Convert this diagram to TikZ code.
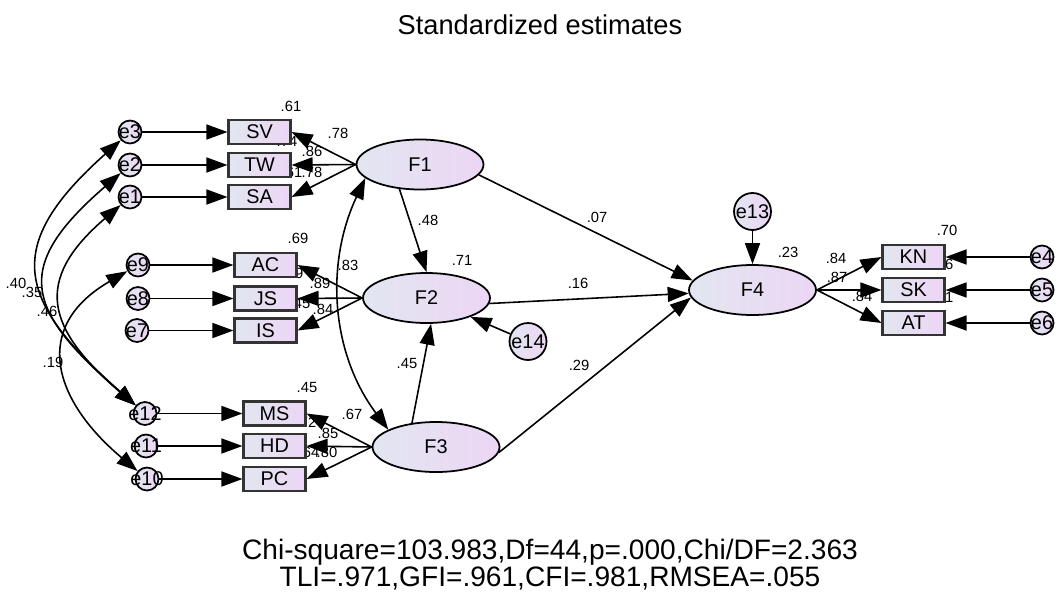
\documentclass[tikz,border=0pt]{standalone}
\usepackage{fontspec}
\setmainfont{Liberation Sans}
\usetikzlibrary{arrows.meta,shapes.geometric}
\definecolor{fillleft}{RGB}{226,230,240}
\definecolor{fillright}{RGB}{236,214,245}
\newcommand{\errtxt}[1]{\makebox[0pt]{#1}}
\tikzset{
  obs/.style={rectangle, draw=black!80, line width=1.2pt, minimum width=1.24cm, minimum height=0.48cm, inner sep=0pt, left color=fillleft, right color=fillright, font=\fontsize{11.3}{13}\selectfont},
  lat/.style={ellipse, draw=black, line width=1pt, minimum width=2.54cm, minimum height=1cm, inner sep=0pt, left color=fillleft, right color=fillright, font=\fontsize{11.3}{13}\selectfont},
  err/.style={circle, draw=black, line width=1pt, minimum size=0.46cm, inner sep=0pt, left color=fillleft, right color=fillright, font=\fontsize{11.3}{13}\selectfont},
  dist/.style={err, minimum size=0.74cm},
  est/.style={inner sep=0pt, font=\fontsize{8.4}{10}\selectfont},
  reg/.style={line width=0.9pt, -{Triangle[length=0.42cm,width=0.3cm]}},
  cov/.style={line width=0.9pt, {Triangle[length=0.42cm,width=0.3cm]}-{Triangle[length=0.42cm,width=0.3cm]}},
}

\begin{document}
\begin{tikzpicture}[x=0.02cm, y=-0.02cm]
			%%%%% START %%%%%
			\useasboundingbox (0, 0) rectangle (1057, 598);
			
			\node[font=\fontsize{15.5}{18}\selectfont] (title) at (540, 25) {Standardized estimates};
			
			\node[est] (w1) at (291, 106) {.61};
			\node[est] (w2) at (338, 133) {.78};
			\node[est] (w3) at (287, 141) {.74};
			\node[est] (w4) at (312, 151) {.86};
			\node[est] (w5) at (292, 172) {.61};
			\node[est] (w6) at (312, 172) {.78};
			
			\node[est] (w7) at (298, 238) {.69};
			\node[est] (w8) at (348, 265) {.83};
			\node[est] (w9) at (293, 273) {.79};
			\node[est] (w10) at (320, 283) {.89};
			\node[est] (w11) at (300, 303) {.45};
			\node[est] (w12) at (323, 309) {.84};
			
			\node[est] (w13) at (307, 387) {.45};
			\node[est] (w14) at (352, 414) {.67};
			\node[est] (w15) at (306, 422) {.72};
			\node[est] (w16) at (328, 433) {.85};
			\node[est] (w17) at (309, 452) {.64};
			\node[est] (w18) at (327, 452) {.80};
			
			\node[est] (w19) at (428, 220) {.48};
			\node[est] (w20) at (597, 217) {.07};
			\node[est] (w21) at (462, 260) {.71};
			\node[est] (w22) at (578, 283) {.16};
			\node[est] (w23) at (407, 363) {.45};
			\node[est] (w24) at (579, 365) {.29};
			\node[est] (w25) at (788, 252) {.23};
			
			\node[est] (w26) at (947, 230) {.70};
			\node[est] (w27) at (836, 258) {.84};
			\node[est] (w28) at (943, 264) {.76};
			\node[est] (w29) at (837, 277) {.87};
			\node[est] (w30) at (862, 296) {.84};
			\node[est] (w31) at (943, 297) {.71};
			
			\node[est] (w32) at (16, 283) {.40};
			\node[est] (w33) at (32, 292) {.35};
			\node[est] (w34) at (47, 311) {.46};
			\node[est] (w35) at (53, 362) {.19};
			
			% observed
			\node[obs] (SV) at (259.5, 132) {SV};
			\node[obs] (TW) at (259.5, 165) {TW};
			\node[obs] (SA) at (259.5, 197) {SA};
			\node[obs] (AC) at (265.5, 265) {AC};
			\node[obs] (JS) at (265.5, 298.5) {JS};
			\node[obs] (IS) at (265.5, 330.5) {IS};
			\node[obs] (MS) at (274.5, 413.5) {MS};
			\node[obs] (HD) at (274.5, 446) {HD};
			\node[obs] (PC) at (274.5, 479) {PC};
			\node[obs] (KN) at (913.5, 257) {KN};
			\node[obs] (SK) at (913.5, 290) {SK};
			\node[obs] (AT) at (913.5, 323) {AT};
			
			% errors
			\node[err] (e3) at (130, 132) {\errtxt{e3}};
			\node[err] (e2) at (130, 165) {\errtxt{e2}};
			\node[err] (e1) at (130, 197) {\errtxt{e1}};
			\node[err] (e9) at (138, 265) {\errtxt{e9}};
			\node[err] (e8) at (138, 298.5) {\errtxt{e8}};
			\node[err] (e7) at (137, 330.5) {\errtxt{e7}};
			\node[err] (e12) at (145, 413.5) {\errtxt{e12}};
			\node[err] (e11) at (146, 446) {\errtxt{e11}};
			\node[err] (e10) at (147, 479) {\errtxt{e10}};
			\node[err] (e4) at (1042, 257) {\errtxt{e4}};
			\node[err] (e5) at (1042, 290) {\errtxt{e5}};
			\node[err] (e6) at (1042, 323) {\errtxt{e6}};
			\node[dist] (e13) at (752.5, 211.5) {\errtxt{e13}};
			\node[dist] (e14) at (528, 341.5) {\errtxt{e14}};
			
			% latent
			\node[lat] (F1) at (420, 164.5) {F1};
			\node[lat] (F2) at (426.5, 298) {F2};
			\node[lat] (F3) at (436, 447) {F3};
			\node[lat] (F4) at (752.5, 290) {F4};
			
			\draw[reg] (e3) -- (SV);
			\draw[reg] (e2) -- (TW);
			\draw[reg] (e1) -- (SA);
			\draw[reg] (e9) -- (AC);
			\draw[reg] (e8) -- (JS);
			\draw[reg] (e7) -- (IS);
			\draw[reg] (e12) -- (MS);
			\draw[reg] (e11) -- (HD);
			\draw[reg] (e10) -- (PC);
			\draw[reg] (e4) -- (KN);
			\draw[reg] (e5) -- (SK);
			\draw[reg] (e6) -- (AT);
			
			\draw[reg] (F1.west) -- (SV.east);
			\draw[reg] (F1.west) -- (TW.east);
			\draw[reg] (F1.west) -- (SA.east);
			\draw[reg] (F2.west) -- (AC.east);
			\draw[reg] (F2.west) -- (JS.east);
			\draw[reg] (F2.west) -- (IS.east);
			\draw[reg] (F3.west) -- (MS.east);
			\draw[reg] (F3.west) -- (HD.east);
			\draw[reg] (F3.west) -- (PC.east);
			\draw[reg] (F4.east) -- (KN.west);
			\draw[reg] (F4.east) -- (SK.west);
			\draw[reg] (F4.east) -- (AT.west);
			
			\draw[reg] (F1.230) -- (F2.north);
			\draw[reg] (F3.135) -- (F2.280);
			\draw[reg] (F1.350) -- (F4.171);
			\draw[reg] (F2.355) -- (F4.183);
			\draw[reg] (F3.355) -- (F4.187);
			\draw[reg] (e13) -- (F4);
			\draw[reg] (e14) -- (F2);
			
			\draw[cov] (F1.194) .. controls (325, 264) and (331, 353) .. (F3.160);
			\draw[cov] (e3) .. controls (2, 246) and (16, 300) .. (e12);
			\draw[cov] (e2) .. controls (11, 268) and (26, 310) .. (e12);
			\draw[cov] (e1) .. controls (32, 281) and (47, 329) .. (e12);
			\draw[cov] (e9) .. controls (31, 327) and (53, 400) .. (e10);
			
			\node[font=\fontsize{16}{15.4}\selectfont, align=center] (fit) at (550, 565) {Chi-square=103.983,Df=44,p=.000,Chi/DF=2.363\\TLI=.971,GFI=.961,CFI=.981,RMSEA=.055};
			%%%%% END %%%%%
\end{tikzpicture}
\end{document}
